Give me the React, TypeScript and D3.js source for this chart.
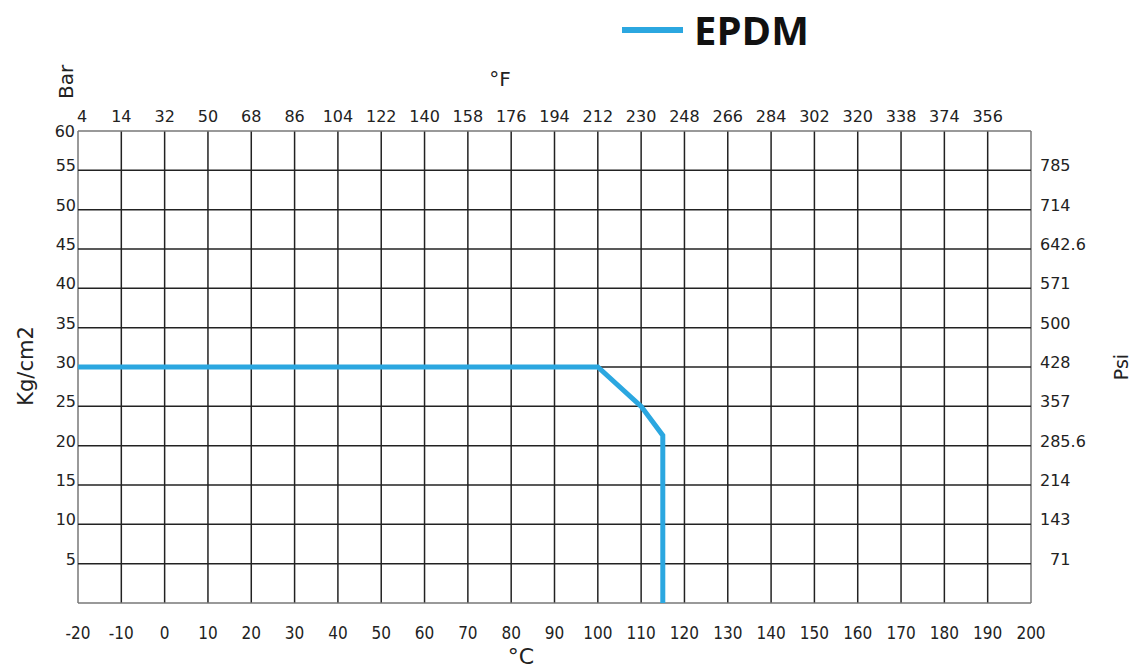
import React from "react";
import * as d3 from "d3";

const celsiusTicks = [-20, -10, 0, 10, 20, 30, 40, 50, 60, 70, 80, 90, 100, 110, 120, 130, 140, 150, 160, 170, 180, 190, 200];
const fahrenheitLabels = ["4", "14", "32", "50", "68", "86", "104", "122", "140", "158", "176", "194", "212", "230", "248", "266", "284", "302", "320", "338", "374", "356"];
const barTicks = [60, 55, 50, 45, 40, 35, 30, 25, 20, 15, 10, 5];
const psiLabels = ["785", "714", "642.6", "571", "500", "428", "357", "285.6", "214", "143", "71"];
const psiBars = [55, 50, 45, 40, 35, 30, 25, 20, 15, 10, 5];

// EPDM pressure / temperature curve (°C, bar)
const epdmTemp = [-20, 100, 110, 115, 115];
const epdmBar = [30, 30, 25, 21.3, 0];

const W = 1136;
const H = 668;
const BLUE = "#2ba7e0";
const FONT = "'DejaVu Sans', sans-serif";

const App: React.FC = () => {
  const x = d3.scaleLinear().domain([-20, 200]).range([78, 1031]);
  const y = d3.scaleLinear().domain([0, 60]).range([603, 131]);

  const points: [number, number][] = epdmTemp.map((t, i) => [t, epdmBar[i]]);
  const line = d3
    .line<[number, number]>()
    .x((d) => x(d[0]))
    .y((d) => y(d[1]));

  const yGrid = d3.range(0, 61, 5);

  return (
    <svg
      width={W}
      height={H}
      style={{ position: "absolute", left: 0, top: 0, background: "#fff" }}
      fontFamily={FONT}
    >
      {/* legend */}
      <line x1={622} x2={683} y1={30} y2={30} stroke={BLUE} strokeWidth={6} />
      <text x={694} y={45} fontSize={40} fontWeight="bold" fill="#111" fontFamily="'Open Sans', sans-serif">
        EPDM
      </text>

      {/* grid */}
      <g>
        {celsiusTicks.map((t) => (
          <line
            key={"v" + t}
            x1={x(t)}
            x2={x(t)}
            y1={y(60)}
            y2={y(0)}
            stroke={t === -20 || t === 200 ? "#777" : "#222"}
            strokeWidth={1.5}
          />
        ))}
        {yGrid.map((b) => (
          <line
            key={"h" + b}
            x1={x(-20)}
            x2={x(200)}
            y1={y(b)}
            y2={y(b)}
            stroke={b === 0 || b === 60 ? "#777" : "#222"}
            strokeWidth={1.5}
          />
        ))}
      </g>

      {/* EPDM curve */}
      <path d={line(points) ?? ""} fill="none" stroke={BLUE} strokeWidth={5} strokeLinejoin="miter" />

      {/* top °F labels */}
      <g fontSize={16} fill="#222" textAnchor="middle">
        {fahrenheitLabels.map((lab, i) => (
          <text key={"f" + i} x={x(celsiusTicks[i]) + (i === 0 ? 4 : 0)} y={122}>
            {lab}
          </text>
        ))}
      </g>
      <text x={500} y={86} fontSize={20} fill="#222" textAnchor="middle">
        °F
      </text>

      {/* bottom °C labels */}
      <g fontSize={17} fill="#222" textAnchor="middle" fontStretch="condensed" fontFamily="'DejaVu Sans Condensed', 'DejaVu Sans', sans-serif">
        {celsiusTicks.map((t) => (
          <text key={"c" + t} x={x(t)} y={639}>
            {t}
          </text>
        ))}
      </g>
      <text x={521} y={664} fontSize={22} fill="#222" textAnchor="middle">
        °C
      </text>

      {/* left bar labels */}
      <g fontSize={16} fill="#222" textAnchor="end">
        {barTicks.map((b) => (
          <text key={"b" + b} x={b === 60 ? 75 : 76} y={y(b) + (b === 60 ? 6 : 1)}>
            {b}
          </text>
        ))}
      </g>
      <text transform="translate(73,82) rotate(-90)" fontSize={20} fill="#222" textAnchor="middle">
        Bar
      </text>
      <text transform="translate(33,366) rotate(-90)" fontSize={21} fill="#222" textAnchor="middle">
        Kg/cm2
      </text>

      {/* right psi labels */}
      <g fontSize={16} fill="#222" textAnchor="start">
        {psiLabels.map((lab, i) => (
          <text key={"p" + i} x={lab === "71" ? 1050 : 1040} y={y(psiBars[i]) + 1}>
            {lab}
          </text>
        ))}
      </g>
      <text transform="translate(1128,367) rotate(-90)" fontSize={19} fill="#222" textAnchor="middle">
        Psi
      </text>
    </svg>
  );
};

export default App;
